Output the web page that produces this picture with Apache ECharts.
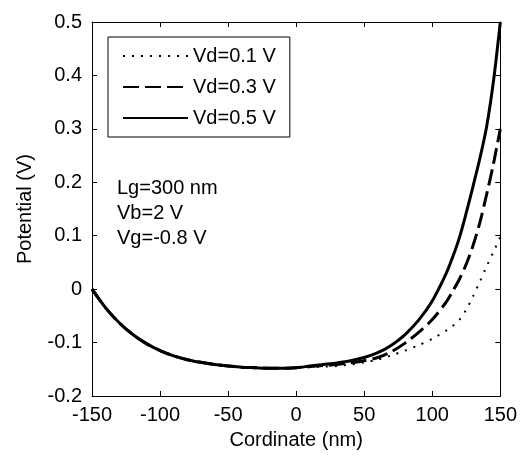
<!DOCTYPE html>
<html>
<head>
<meta charset="utf-8">
<script src="https://cdn.jsdelivr.net/npm/echarts@6/dist/echarts.min.js"></script>
<style>
html,body{margin:0;padding:0;background:#fff;}
#chart{width:520px;height:455px;}
</style>
</head>
<body>
<div id="chart"></div>
<script>
var xValues = [-150,-140,-130,-120,-110,-100,-90,-80,-70,-60,-50,-40,-30,-20,-10,0,10,20,30,40,50,60,70,80,90,100,110,115,120,125,130,135,140,145,150];
var leftPart = [0,-0.035,-0.063,-0.085,-0.102,-0.115,-0.125,-0.132,-0.137,-0.141,-0.144,-0.146,-0.147,-0.148,-0.148,-0.147];
var vd01Right = [-0.146,-0.145,-0.144,-0.141,-0.137,-0.132,-0.124,-0.115,-0.105,-0.093,-0.078,-0.069,-0.057,-0.038,-0.013,0.014,0.043,0.070,0.098];
var vd03Right = [-0.145,-0.143,-0.141,-0.138,-0.134,-0.128,-0.117,-0.101,-0.081,-0.057,-0.025,-0.004,0.019,0.047,0.082,0.125,0.178,0.235,0.300];
var vd05Right = [-0.144,-0.141,-0.138,-0.134,-0.128,-0.119,-0.105,-0.085,-0.058,-0.022,0.028,0.060,0.097,0.143,0.193,0.245,0.305,0.390,0.500];
var seriesNames = ['Vd=0.1 V','Vd=0.3 V','Vd=0.5 V'];
var xTitle = 'Cordinate (nm)';
var yTitle = 'Potential (V)';
var noteLines = ['Lg=300 nm','Vb=2 V','Vg=-0.8 V'];

function pairs(right){
  var ys = leftPart.concat(right);
  return xValues.map(function(x,i){ return [x, ys[i]]; });
}
var FONT = 'Liberation Sans, Arial, sans-serif';
var chart = echarts.init(document.getElementById('chart'), null, {renderer:'canvas'});
var axisCommon = {
  axisLine:{show:true,onZero:false,lineStyle:{color:'#000',width:1}},
  axisTick:{show:true,inside:true,length:5,lineStyle:{color:'#000'}},
  splitLine:{show:false}
};
var option = {
  backgroundColor:'#fff',
  animation:false,
  textStyle:{fontFamily:FONT},
  grid:{left:92,right:19,top:22,bottom:55,containLabel:false},
  xAxis:[
    Object.assign({type:'value',min:-150,max:150,interval:50,position:'bottom',
      name:xTitle,nameLocation:'middle',nameGap:34,
      nameTextStyle:{fontSize:20,color:'#000',fontFamily:FONT},
      axisLabel:{fontSize:20,color:'#000',margin:9,fontFamily:FONT}}, axisCommon),
    Object.assign({type:'value',min:-150,max:150,interval:50,position:'top',
      axisLabel:{show:false}}, axisCommon)
  ],
  yAxis:[
    Object.assign({type:'value',min:-0.2,max:0.5,interval:0.1,position:'left',
      name:yTitle,nameLocation:'middle',nameGap:57,
      nameTextStyle:{fontSize:20,color:'#000',fontFamily:FONT},
      axisLabel:{fontSize:20,color:'#000',margin:10,fontFamily:FONT}}, axisCommon),
    Object.assign({type:'value',min:-0.2,max:0.5,interval:0.1,position:'right',
      axisLabel:{show:false}}, axisCommon)
  ],
  legend:{
    orient:'vertical',left:108,top:37,
    data:seriesNames,
    itemWidth:65,itemHeight:14,itemGap:11,
    padding:[9,14,9,14],
    borderColor:'#000',borderWidth:1,backgroundColor:'#fff',
    itemStyle:{opacity:0},
    textStyle:{fontSize:20,color:'#000',fontFamily:FONT}
  },
  graphic:[{
    type:'text',left:117,top:176,
    style:{text:noteLines.join('\n'),fontSize:20,lineHeight:25,fill:'#000',fontFamily:FONT}
  }],
  series:[
    {name:seriesNames[0],type:'line',data:pairs(vd01Right),smooth:0.3,symbol:'none',showSymbol:false,
      lineStyle:{color:'#000',width:2,type:[2,7]},itemStyle:{color:'#000'}},
    {name:seriesNames[1],type:'line',data:pairs(vd03Right),smooth:0.3,symbol:'none',showSymbol:false,
      lineStyle:{color:'#000',width:3,type:[16,6]},itemStyle:{color:'#000'}},
    {name:seriesNames[2],type:'line',data:pairs(vd05Right),smooth:0.3,symbol:'none',showSymbol:false,
      lineStyle:{color:'#000',width:3,type:'solid'},itemStyle:{color:'#000'}}
  ]
};
chart.setOption(option);
</script>
</body>
</html>
